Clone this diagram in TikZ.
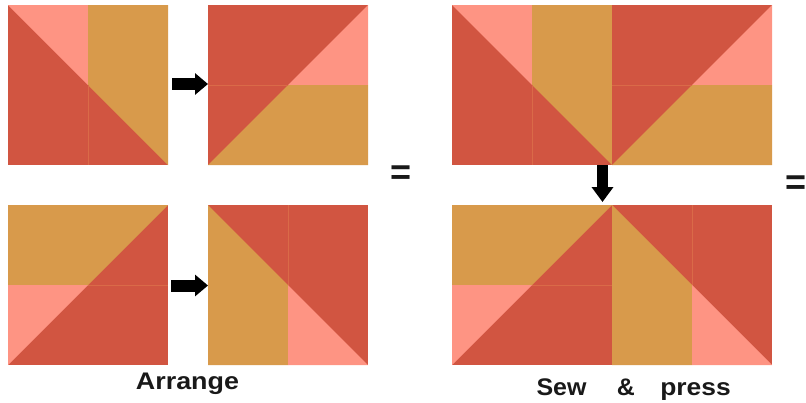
\documentclass[tikz,border=0pt]{standalone}
\usepackage{fontspec}
\newfontfamily\lblfont{Liberation Sans}
\usetikzlibrary{arrows.meta}
\definecolor{qred}{HTML}{D15541}
\definecolor{qpink}{HTML}{FE9483}
\definecolor{qorange}{HTML}{D89A4B}
\definecolor{qseam}{HTML}{DA6A48}
\tikzset{
  seam/.style={draw=qseam, line width=0.8pt},
  blockA/.pic={
    \fill[qred] (0,0) rectangle (160,160);
    \fill[qpink] (0,0) -- (80,0) -- (80,80) -- cycle;
    \fill[qorange] (80,0) -- (160,0) -- (160,160) -- (80,80) -- cycle;
    \draw[seam] (80,80) -- (80,160);
  },
  blockB/.pic={
    \fill[qred] (0,0) rectangle (160,160);
    \fill[qpink] (80,80) -- (160,0) -- (160,80) -- cycle;
    \fill[qorange] (0,160) -- (80,80) -- (160,80) -- (160,160) -- cycle;
    \draw[seam] (0,80) -- (80,80);
  },
  blockC/.pic={
    \fill[qred] (0,0) rectangle (160,160);
    \fill[qorange] (0,0) -- (160,0) -- (80,80) -- (0,80) -- cycle;
    \fill[qpink] (0,80) -- (80,80) -- (0,160) -- cycle;
    \draw[seam] (80,80) -- (160,80);
  },
  blockD/.pic={
    \fill[qred] (0,0) rectangle (160,160);
    \fill[qorange] (0,0) -- (80,80) -- (80,160) -- (0,160) -- cycle;
    \fill[qpink] (80,80) -- (160,160) -- (80,160) -- cycle;
    \draw[seam] (80,0) -- (80,80);
  },
  harrow/.style={draw=black, line width=12pt, -{Triangle[length=13pt,width=21pt]}},
  varrow/.style={draw=black, line width=11pt, -{Triangle[length=15pt,width=21pt]}},
  lbl/.style={anchor=base, inner sep=0pt, font=\lblfont\bfseries\fontsize{24}{28}\selectfont, text=black!90},
  eqsign/.style={anchor=base, inner sep=0pt, font=\lblfont\bfseries\fontsize{36}{40}\selectfont, text=black!90}
}
\begin{document}
\begin{tikzpicture}[x=1pt, y=-1pt]
\useasboundingbox (0,0) rectangle (806,402);
% left column: pieces
\pic at (8,5) {blockA};
\pic at (208,5) {blockB};
\pic at (8,205) {blockC};
\pic at (208,205) {blockD};
% right: assembled
\pic at (452,5) {blockA};
\pic at (612,5) {blockB};
\pic at (452,205) {blockC};
\pic at (612,205) {blockD};
% arrows
\coordinate (a1s) at (172,84);
\coordinate (a1e) at (208,84);
\coordinate (a2s) at (171,285.5);
\coordinate (a2e) at (208,285.5);
\coordinate (a3s) at (602.5,165);
\coordinate (a3e) at (602.5,202);
\draw[harrow] (a1s) -- (a1e);
\draw[harrow] (a2s) -- (a2e);
\draw[varrow] (a3s) -- (a3e);
% equals signs
\node[eqsign] (eq1) at (401,184) {=};
\node[eqsign] (eq2) at (796,194) {=};
% labels
\node[lbl] (arrange) at (187.5,389) {\scalebox{1.12}[1]{Arrange}};
\node[lbl] (sew) at (561.5,395) {\scalebox{1.04}[1]{Sew}};
\node[lbl] (amp) at (626,395) {\scalebox{1.04}[1]{\&}};
\node[lbl] (press) at (695.5,395) {\scalebox{1.1}[1]{press}};
\end{tikzpicture}
\end{document}
